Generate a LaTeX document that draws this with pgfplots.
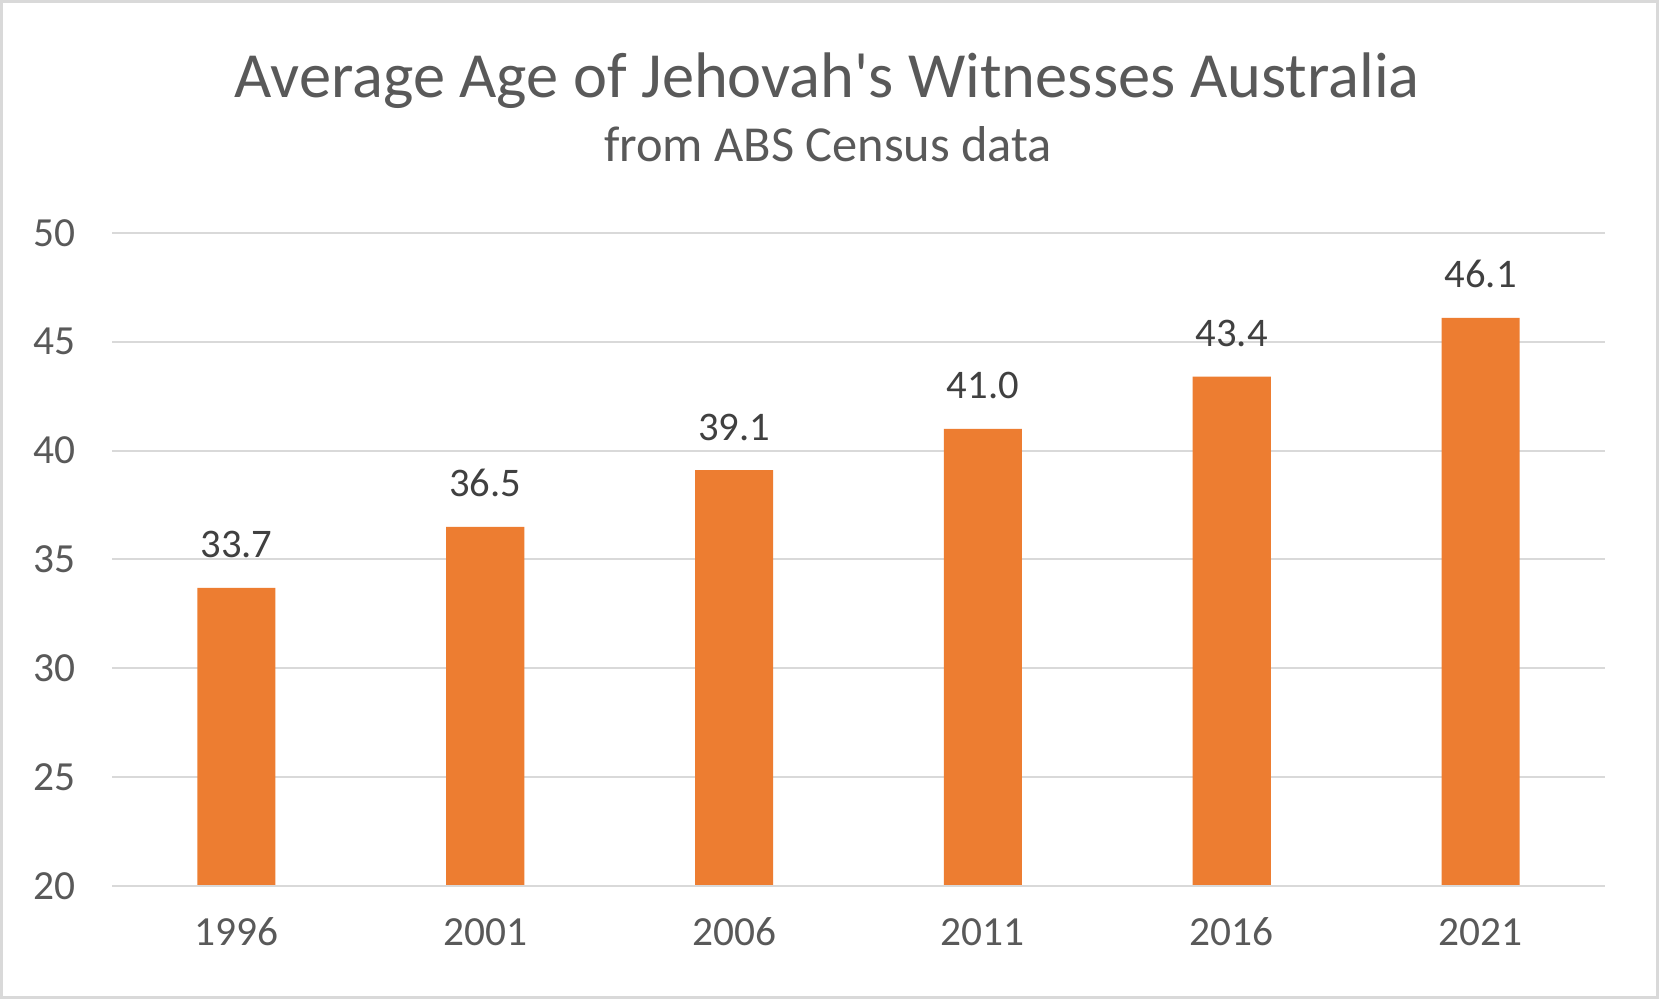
\documentclass[border=0pt]{standalone}
\usepackage{pgfplots}
\pgfplotsset{compat=1.18}
\usepackage{fontspec}
\setmainfont{Carlito}[Ligatures=TeXReset]
\definecolor{barorange}{HTML}{ED7D31}
\definecolor{gridgray}{HTML}{D9D9D9}
\definecolor{textgray}{HTML}{595959}
\definecolor{labelgray}{HTML}{404040}
\begin{document}
\begin{tikzpicture}[x=1pt,y=1pt]
\useasboundingbox (0,0) rectangle (829.5,499.5);
\fill[white] (0,0) rectangle (829.5,499.5);
\draw[gridgray,line width=1.5pt] (0.75,0.75) rectangle (828.75,498.75);
\node[text=textgray,font=\fontsize{32.2}{39}\selectfont,anchor=base] at (413.5,450.7) {Average Age of Jehovah's Witnesses Australia};
\node[text=textgray,font=\fontsize{25.2}{30}\selectfont,anchor=base] at (414,418.9) {from ABS Census data};
\begin{axis}[
  at={(56pt,56.5pt)}, anchor=south west,
  scale only axis, width=746.5pt, height=326.5pt,
  xmin=-0.5, xmax=5.5, ymin=20, ymax=50,
  ytick={20,25,...,50},
  xtick={0,1,2,3,4,5},
  xticklabels={1996,2001,2006,2011,2016,2021},
  axis line style={draw=none},
  axis x line*=bottom,
  major tick length=0pt,
  ymajorgrids, grid style={gridgray,line width=1pt},
  ticklabel style={font=\fontsize{20.7}{25}\selectfont, text=textgray},
  yticklabel style={xshift=-14.5pt},
  xticklabel style={text height=14pt, text depth=0pt, yshift=-12pt},
  /pgf/number format/assume math mode=true,
  ybar, bar width=0.314,
  clip=false,
]
\addplot[fill=barorange, draw=none,
  nodes near coords,
  nodes near coords style={font=\fontsize{20.3}{24}\selectfont, text=labelgray, text height=14pt, text depth=0pt, yshift=11.5pt, /pgf/number format/.cd, fixed, fixed zerofill, precision=1},
] coordinates {(0,33.7) (1,36.5) (2,39.1) (3,41.0) (4,43.4) (5,46.1)};
\draw[gridgray,line width=1pt] (axis cs:-0.5,20) -- (axis cs:5.5,20);
\end{axis}
\end{tikzpicture}
\end{document}
